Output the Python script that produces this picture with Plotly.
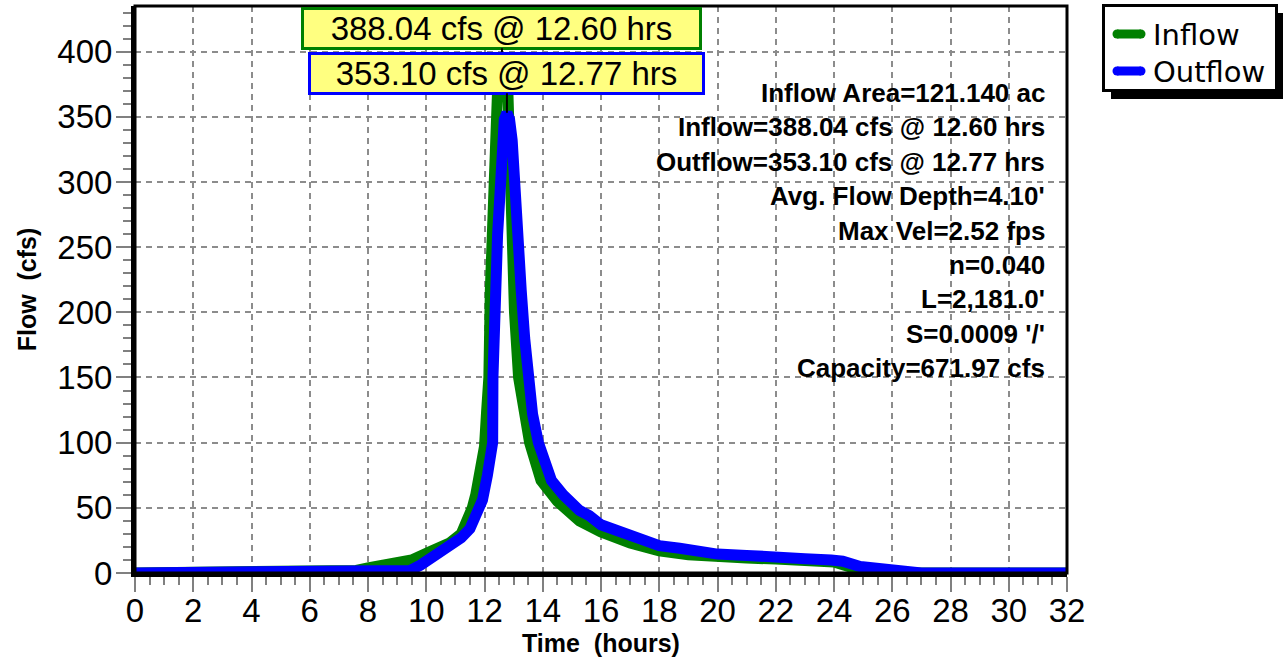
import plotly.graph_objects as go

# ---------------- data ----------------
inflow_t = [0, 7.3, 7.6, 8.0, 8.5, 9.0, 9.5, 10.1, 10.5, 10.8, 11.2, 11.5, 11.58, 11.7,
            11.9, 12.0, 12.07, 12.15, 12.2, 12.35, 12.4, 12.45, 12.6, 12.8, 12.87, 12.93,
            13.03, 13.17, 13.35, 13.55, 13.94, 14.5, 15.26, 16.0, 17.0, 18.0, 19.0, 20.0,
            21.0, 22.0, 23.0, 24.0, 24.5, 25.0, 25.3, 32]
inflow_q = [0, 0, 2, 4, 5.5, 7, 10, 16, 20, 23, 30, 43, 50, 60,
            80, 97, 123, 150, 217, 294, 340, 371, 388.04, 371, 320, 260,
            200, 150, 122, 100, 71, 55, 40, 31.5, 23, 17, 14, 12,
            11.5, 10.7, 10, 8.5, 5, 1, 0, 0]

outflow_t = [0, 9.3, 9.45, 9.8, 10.1, 10.5, 10.8, 11.2, 11.5, 11.75, 11.93, 12.1, 12.28,
             12.29, 12.35, 12.45, 12.54, 12.6, 12.68, 12.77, 12.86, 12.95, 13.03, 13.15,
             13.26, 13.38, 13.5, 13.65, 13.85, 14.05, 14.3, 14.7, 15.26, 15.6, 16.0, 16.5,
             17.0, 17.5, 18.0, 18.7, 19.3, 20.0, 21.0, 22.0, 23.0, 23.9, 24.3, 24.9, 25.5,
             26.0, 26.8, 27.0, 32]
outflow_q = [0, 0, 2, 6, 10.7, 15, 20, 27, 34, 45, 56, 75, 100,
             150, 217, 260, 294, 332, 348, 353.10, 348, 332, 294, 255,
             217, 180, 150, 122, 100, 84, 71, 60, 48, 44, 37, 33,
             29, 25, 21, 19, 16.5, 14.5, 13.5, 11.5, 11, 10, 9, 5, 3.5,
             2.3, 2, 0, 0]

inflow_peak = (12.60, 388.04)
outflow_peak = (12.77, 353.10)

series_names = ["Inflow", "Outflow"]
series_colors = ["#008000", "#0000FF"]

info_lines = [
    "Inflow Area=121.140 ac",
    "Inflow=388.04 cfs @ 12.60 hrs",
    "Outflow=353.10 cfs @ 12.77 hrs",
    "Avg. Flow Depth=4.10'",
    "Max Vel=2.52 fps",
    "n=0.040",
    "L=2,181.0'",
    "S=0.0009 '/'",
    "Capacity=671.97 cfs",
]

x_ticks = list(range(0, 33, 2))
y_ticks = list(range(0, 401, 50))

# ---------------- figure ----------------
W, H = 1283, 659
ML, MR, MT, MB = 135, 216, 6, 86
PW = W - ML - MR
PH = H - MT - MB


def px_x(px):
    return (px - ML) / PW


def px_y(py):
    return 1 - (py - MT) / PH


ARIAL = "Arial, Liberation Sans, sans-serif"

fig = go.Figure()
fig.add_trace(go.Scatter(x=inflow_t, y=inflow_q, mode="lines", name=series_names[0],
                         line=dict(color=series_colors[0], width=11)))
fig.add_trace(go.Scatter(x=outflow_t, y=outflow_q, mode="lines", name=series_names[1],
                         line=dict(color=series_colors[1], width=11)))

grid = dict(showgrid=True, gridcolor="#8c8c8c", gridwidth=1.5, griddash="6px,5px")

fig.update_xaxes(range=[0, 32], tickvals=x_ticks, ticktext=[str(v) for v in x_ticks],
                 ticks="outside", ticklen=15, tickwidth=2, tickcolor="#808080",
                 minor=dict(dtick=0.5, ticks="outside", ticklen=8, tickwidth=2,
                            tickcolor="#808080", showgrid=False),
                 showline=True, linewidth=4, linecolor="black", mirror=False,
                 zeroline=False, automargin=False, ticklabelstandoff=-10,
                 tickfont=dict(family=ARIAL, size=33, color="black"),
                 title=dict(text="<b>Time\u00a0\u00a0(hours)</b>", standoff=2,
                            font=dict(family=ARIAL, size=25, color="black")),
                 **grid)
fig.update_yaxes(range=[0, 435], tickvals=y_ticks, ticktext=[str(v) for v in y_ticks],
                 ticks="outside", ticklen=15, tickwidth=2, tickcolor="#808080",
                 minor=dict(dtick=10, ticks="outside", ticklen=8, tickwidth=2,
                            tickcolor="#808080", showgrid=False),
                 showline=True, linewidth=4, linecolor="black", mirror=False,
                 zeroline=False, automargin=False, ticklabelstandoff=-3,
                 tickfont=dict(family=ARIAL, size=33, color="black"),
                 title=dict(text="<b>Flow\u00a0\u00a0(cfs)</b>", standoff=15,
                            font=dict(family=ARIAL, size=25, color="black")),
                 **grid)

annotations = []
# peak labels
annotations.append(dict(x=inflow_peak[0], y=inflow_peak[1], xref="x", yref="y",
                        text=f"{inflow_peak[1]:.2f} cfs @ {inflow_peak[0]:.2f} hrs",
                        showarrow=True, arrowhead=0, arrowwidth=2, arrowcolor="black",
                        ax=0, ay=-39, bgcolor="#FFFF80", bordercolor=series_colors[0],
                        borderwidth=3, borderpad=1, width=393, height=35,
                        font=dict(family=ARIAL, size=33, color="black")))
annotations.append(dict(x=outflow_peak[0], y=outflow_peak[1], xref="x", yref="y",
                        text=f"{outflow_peak[1]:.2f} cfs @ {outflow_peak[0]:.2f} hrs",
                        showarrow=True, arrowhead=0, arrowwidth=2, arrowcolor="black",
                        ax=0, ay=-39.5, bgcolor="#FFFF80", bordercolor=series_colors[1],
                        borderwidth=3, borderpad=1, width=389, height=35,
                        font=dict(family=ARIAL, size=33, color="black")))
# info block
for i, line in enumerate(info_lines):
    py = 93 + i * 34.4
    annotations.append(dict(x=px_x(1047), y=px_y(py), xref="paper", yref="paper",
                            xanchor="right", yanchor="middle", showarrow=False,
                            text=f"<b>{line}</b>",
                            font=dict(family=ARIAL, size=26, color="black")))

shapes = [
    # plot frame (top / right)
    dict(type="rect", xref="paper", yref="paper", x0=0, x1=1, y0=0, y1=1,
         line=dict(color="black", width=3), layer="above"),
    # legend drop shadow
    dict(type="rect", xref="paper", yref="paper",
         x0=px_x(1111), x1=px_x(1286), y0=px_y(99), y1=px_y(13),
         fillcolor="black", line=dict(width=0), layer="above"),
    # legend box
    dict(type="rect", xref="paper", yref="paper",
         x0=px_x(1103.5), x1=px_x(1276.5), y0=px_y(90.5), y1=px_y(5.5),
         fillcolor="white", line=dict(color="black", width=3), layer="above"),
]

# legend entries (one per series)
for i, (name, color) in enumerate(zip(series_names, series_colors)):
    cy = 34 + i * 37
    shapes.append(dict(type="line", xref="paper", yref="paper",
                       x0=px_x(1117), x1=px_x(1141), y0=px_y(cy), y1=px_y(cy),
                       line=dict(color=color, width=9), layer="above"))
    shapes.append(dict(type="circle", xref="paper", yref="paper",
                       x0=px_x(1112.5), x1=px_x(1121.5), y0=px_y(cy + 4.5), y1=px_y(cy - 4.5),
                       fillcolor=color, line=dict(width=0), layer="above"))
    shapes.append(dict(type="circle", xref="paper", yref="paper",
                       x0=px_x(1136.5), x1=px_x(1145.5), y0=px_y(cy + 4.5), y1=px_y(cy - 4.5),
                       fillcolor=color, line=dict(width=0), layer="above"))
    annotations.append(dict(x=px_x(1151), y=px_y(cy + 1), xref="paper", yref="paper",
                            xanchor="left", yanchor="middle", showarrow=False,
                            text=name,
                            font=dict(family="DejaVu Sans", size=29, color="black")))

fig.update_layout(
    width=W, height=H,
    margin=dict(l=ML, r=MR, t=MT, b=MB, autoexpand=False),
    paper_bgcolor="white", plot_bgcolor="white",
    showlegend=False,
    annotations=annotations,
    shapes=shapes,
)

fig.write_html("out.html", config={"displayModeBar": False},
               post_script="document.body.style.margin='0';document.body.style.overflow='hidden';")
